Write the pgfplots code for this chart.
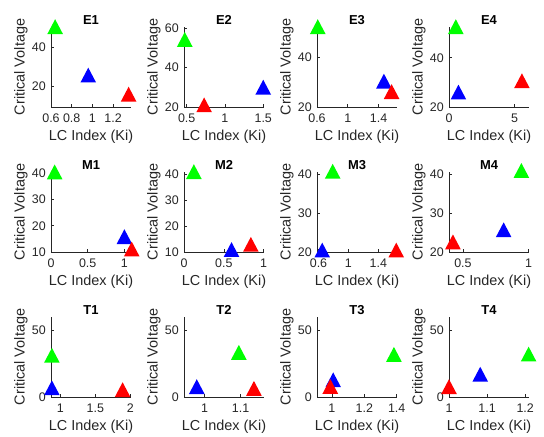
\documentclass[border=0pt]{standalone}
\usepackage{fontspec}
\setmainfont{Liberation Sans}
\usepackage{pgfplots}
\pgfplotsset{compat=1.18}
\definecolor{axgray}{rgb}{0.15,0.15,0.15}
\pgfdeclareplotmark{mtri}{%
  \pgfpathmoveto{\pgfqpoint{0pt}{\pgfplotmarksize}}%
  \pgfpathlineto{\pgfqpoint{-\pgfplotmarksize}{-0.9\pgfplotmarksize}}%
  \pgfpathlineto{\pgfqpoint{\pgfplotmarksize}{-0.9\pgfplotmarksize}}%
  \pgfpathclose\pgfusepathqfill}
\pgfplotsset{
  mpanel/.style={
    width=80bp, height=80bp, scale only axis, anchor=south west,
    axis x line*=bottom, axis y line*=left,
    axis line style={draw=axgray, line width=0.7bp, -},
    tick style={draw=axgray, line width=0.6bp},
    major tick length=2.5bp, tick align=inside,
    clip=false, scaled ticks=false,
    /pgf/number format/assume math mode=true,
    /pgf/number format/fixed, /pgf/number format/precision=2,
    ticklabel style={font=\fontsize{12.5}{13}\selectfont, text=axgray},
    xticklabel style={anchor=north, inner sep=0pt, yshift=-6.5bp},
    yticklabel style={anchor=east, inner sep=0pt, xshift=-5bp},
    xlabel={LC Index (Ki)}, ylabel={Critical Voltage},
    label style={font=\fontsize{14.5}{15}\selectfont, text=axgray},
    xlabel style={at={(axis description cs:0.5,-0.375)}, anchor=center},
    ylabel style={at={(axis description cs:-0.375,0.5)}, anchor=center},
    every axis title/.style={at={(axis description cs:0.5,1)}, anchor=center, yshift=7bp,
      font=\bfseries\fontsize{13}{13}\selectfont},
  },
  g/.style={only marks, mark=mtri, mark size=7.8bp, color={rgb,1:red,0;green,1;blue,0}},
  b/.style={only marks, mark=mtri, mark size=7.8bp, color={rgb,1:red,0;green,0;blue,1}},
  r/.style={only marks, mark=mtri, mark size=7.8bp, color={rgb,1:red,1;green,0;blue,0}},
}
\begin{document}
\begin{tikzpicture}
\useasboundingbox (0,0) rectangle (544bp,437bp);
% Row 1
\begin{axis}[mpanel, at={(51bp,330bp)}, title={E1},
  xmin=0.6, xmax=1.373, ymin=9.2, ymax=50.3,
  xtick={0.6,0.8,1,1.2}, ytick={20,40}]
\addplot[g] coordinates {(0.64,50.3)};
\addplot[b] coordinates {(0.96,25.4)};
\addplot[r] coordinates {(1.35,15.6)};
\end{axis}
\begin{axis}[mpanel, at={(184bp,330bp)}, title={E2},
  xmin=0.465, xmax=1.51, ymin=20, ymax=60.7,
  xtick={0.5,1,1.5}, ytick={20,40,60}]
\addplot[g] coordinates {(0.475,54.2)};
\addplot[b] coordinates {(1.5,29.9)};
\addplot[r] coordinates {(0.728,20.9)};
\end{axis}
\begin{axis}[mpanel, at={(317bp,330bp)}, title={E3},
  xmin=0.6, xmax=1.64, ymin=20, ymax=52,
  xtick={0.6,1,1.4}, ytick={20,40}]
\addplot[g] coordinates {(0.61,52)};
\addplot[b] coordinates {(1.47,30.2)};
\addplot[r] coordinates {(1.57,26)};
\end{axis}
\begin{axis}[mpanel, at={(449bp,330bp)}, title={E4},
  xmin=0, xmax=6.1, ymin=20, ymax=52.5,
  xtick={0,5}, ytick={20,40}]
\addplot[g] coordinates {(0.52,52.5)};
\addplot[b] coordinates {(0.72,25.9)};
\addplot[r] coordinates {(5.56,30.5)};
\end{axis}
% Row 2
\begin{axis}[mpanel, at={(51bp,185bp)}, title={M1},
  xmin=0, xmax=1.09, ymin=10, ymax=40.5,
  xtick={0,0.5,1}, ytick={10,20,30,40}]
\addplot[g] coordinates {(0.05,40.4)};
\addplot[b] coordinates {(1.0,15.7)};
\addplot[r] coordinates {(1.1,11)};
\end{axis}
\begin{axis}[mpanel, at={(184bp,185bp)}, title={M2},
  xmin=0, xmax=1.005, ymin=10, ymax=40.7,
  xtick={0,0.5,1}, ytick={10,20,30,40}]
\addplot[g] coordinates {(0.124,40.7)};
\addplot[b] coordinates {(0.597,10.8)};
\addplot[r] coordinates {(0.84,12.8)};
\end{axis}
\begin{axis}[mpanel, at={(317bp,185bp)}, title={M3},
  xmin=0.58, xmax=1.65, ymin=20, ymax=40.5,
  xtick={0.6,1,1.4}, ytick={20,30,40}]
\addplot[g] coordinates {(0.79,40.6)};
\addplot[b] coordinates {(0.65,20.4)};
\addplot[r] coordinates {(1.64,20.4)};
\end{axis}
\begin{axis}[mpanel, at={(449bp,185bp)}, title={M4},
  xmin=0.394, xmax=1.003, ymin=20, ymax=40.5,
  xtick={0.5,1}, ytick={20,30,40}]
\addplot[g] coordinates {(0.945,40.8)};
\addplot[b] coordinates {(0.81,25.6)};
\addplot[r] coordinates {(0.424,22.5)};
\end{axis}
% Row 3
\begin{axis}[mpanel, at={(51bp,40bp)}, title={T1},
  xmin=0.867, xmax=2.01, ymin=0, ymax=60,
  xtick={1,1.5,2}, ytick={0,50}]
\addplot[g] coordinates {(0.88,31)};
\addplot[b] coordinates {(0.88,6.6)};
\addplot[r] coordinates {(1.89,5.2)};
\end{axis}
\begin{axis}[mpanel, at={(184bp,40bp)}, title={T2},
  xmin=0.9425, xmax=1.165, ymin=0, ymax=60,
  xtick={1,1.1}, ytick={0,50}]
\addplot[g] coordinates {(1.095,33.2)};
\addplot[b] coordinates {(0.978,7.5)};
\addplot[r] coordinates {(1.137,6.2)};
\end{axis}
\begin{axis}[mpanel, at={(317bp,40bp)}, title={T3},
  xmin=0.908, xmax=1.402, ymin=0, ymax=60,
  xtick={1,1.2,1.4}, ytick={0,50}]
\addplot[g] coordinates {(1.383,31.7)};
\addplot[b] coordinates {(1.008,12.6)};
\addplot[r] coordinates {(0.99,7.7)};
\end{axis}
\begin{axis}[mpanel, at={(449bp,40bp)}, title={T4},
  xmin=1.0, xmax=1.21, ymin=0, ymax=60,
  xtick={1,1.1,1.2}, ytick={0,50}]
\addplot[g] coordinates {(1.209,31.9)};
\addplot[b] coordinates {(1.082,16.8)};
\addplot[r] coordinates {(1.0,7.5)};
\end{axis}
\end{tikzpicture}
\end{document}
